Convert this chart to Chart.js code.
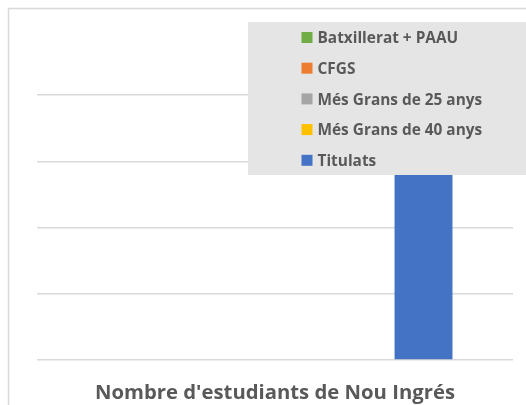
<!DOCTYPE html>
<html>
<head>
<meta charset="utf-8">
<script src="https://cdn.jsdelivr.net/npm/chart.js@4/dist/chart.umd.min.js"></script>
<style>
html,body{margin:0;padding:0;background:#fff;overflow:hidden;}
#wrap{width:526px;height:405px;position:relative;}
canvas{display:block;}
</style>
</head>
<body>
<div id="wrap"><canvas id="c" width="526" height="405"></canvas></div>
<script>
const categories = ["Nombre d'estudiants de Nou Ingrés"];
const seriesNames = ["Batxillerat + PAAU", "CFGS", "Més Grans de 25 anys", "Més Grans de 40 anys", "Titulats"];
const batxillerat = [0];
const cfgs = [0];
const mesGrans25 = [0];
const mesGrans40 = [0];
const titulats = [35];
const yTicks = [0, 10, 20, 30, 40];

const colors = ['#70AD47', '#ED7D31', '#A5A5A5', '#FFC000', '#4472C4'];
const seriesValues = [batxillerat, cfgs, mesGrans25, mesGrans40, titulats];

const FONT = "'Open Sans', Lato, sans-serif";
const TEXT = '#595959';

const frame = {
  id: 'frame',
  beforeDraw(chart) {
    const ctx = chart.ctx;
    ctx.save();
    ctx.fillStyle = '#fff';
    ctx.fillRect(0, 0, chart.width, chart.height);
    ctx.strokeStyle = '#d9d9d9';
    ctx.lineWidth = 1.5;
    ctx.strokeRect(8.5, 8.5, 700, 700);
    ctx.restore();
  }
};

const categoryLabel = {
  id: 'categoryLabel',
  afterDraw(chart) {
    const ctx = chart.ctx;
    const xs = chart.scales.x;
    ctx.save();
    ctx.font = "bold 20.3px " + FONT;
    ctx.fillStyle = TEXT;
    ctx.textAlign = 'center';
    ctx.textBaseline = 'alphabetic';
    chart.data.labels.forEach((lab, i) => {
      ctx.fillText(lab, xs.getPixelForTick(i), 399);
    });
    ctx.restore();
  }
};

const overlayLegend = {
  id: 'overlayLegend',
  afterDatasetsDraw(chart) {
    const ctx = chart.ctx;
    ctx.save();
    ctx.fillStyle = '#e5e5e5';
    ctx.fillRect(248, 22, 300, 153);
    ctx.font = "bold 15.4px " + FONT;
    ctx.textBaseline = 'alphabetic';
    chart.data.datasets.forEach((ds, i) => {
      const y = 37.5 + i * 30.7;
      ctx.fillStyle = ds.backgroundColor;
      ctx.fillRect(301.5, y - 5.5, 11, 11);
      ctx.fillStyle = TEXT;
      ctx.fillText(ds.label, 317.5, y + 5.8);
    });
    ctx.restore();
  }
};

new Chart(document.getElementById('c'), {
  type: 'bar',
  data: {
    labels: categories,
    datasets: seriesNames.map((n, i) => ({
      label: n,
      data: seriesValues[i],
      backgroundColor: colors[i],
      borderWidth: 0,
      categoryPercentage: 0.78,
      barPercentage: 0.78
    }))
  },
  options: {
    responsive: false,
    animation: false,
    layout: { padding: { left: 37, right: 13, top: 95, bottom: 45 } },
    plugins: { legend: { display: false }, tooltip: { enabled: false }, title: { display: false } },
    scales: {
      x: {
        grid: { display: false, drawTicks: false },
        border: { display: false },
        ticks: { display: false }
      },
      y: {
        min: yTicks[0], max: yTicks[yTicks.length - 1],
        afterBuildTicks(axis) { axis.ticks = yTicks.map(v => ({ value: v })); },
        grid: { color: '#d9d9d9', lineWidth: 1.5, drawTicks: false },
        border: { display: false },
        ticks: { display: false }
      }
    }
  },
  plugins: [frame, overlayLegend, categoryLabel]
});
</script>
</body>
</html>
